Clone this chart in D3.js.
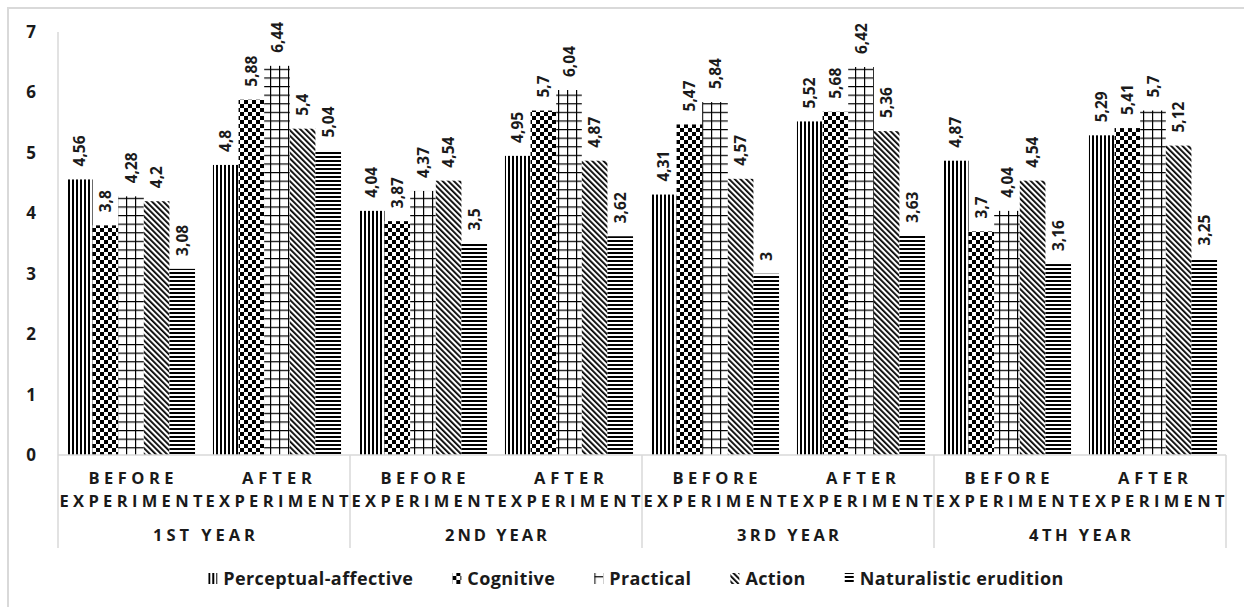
<!DOCTYPE html>
<html>
<head>
<meta charset="utf-8">
<script src="https://cdn.jsdelivr.net/npm/d3@7"></script>
<style>
  body { margin: 0; background: #fff; }
  svg { display: block; font-family: "Open Sans", "Noto Sans", sans-serif; }
</style>
</head>
<body>
<div id="chart"></div>
<script>
// chart data
var years = ["1ST YEAR", "2ND YEAR", "3RD YEAR", "4TH YEAR"];
var phases = [["BEFORE", "EXPERIMENT"], ["AFTER", "EXPERIMENT"]];
var seriesNames = ["Perceptual-affective", "Cognitive", "Practical", "Action", "Naturalistic erudition"];
var yTicks = [0, 1, 2, 3, 4, 5, 6, 7];

// one value per year/phase column, in column order
var perceptual = [4.56, 4.8, 4.04, 4.95, 4.31, 5.52, 4.87, 5.29];
var cognitive = [3.8, 5.88, 3.87, 5.7, 5.47, 5.68, 3.7, 5.41];
var practical = [4.28, 6.44, 4.37, 6.04, 5.84, 6.42, 4.04, 5.7];
var action = [4.2, 5.4, 4.54, 4.87, 4.57, 5.36, 4.54, 5.12];
var naturalistic = [3.08, 5.04, 3.5, 3.62, 3, 3.63, 3.16, 3.25];

var seriesValues = [perceptual, cognitive, practical, action, naturalistic];
var patternIds = ["pat-vert", "pat-check", "pat-grid", "pat-diag", "pat-horiz"];

var width = 1244, height = 607;
var plotLeft = 58, plotRight = 1226, plotTop = 32, baseline = 455;
var axisBottom = 548;
var ink = "#1a1a1a", frameGray = "#d9d9d9";

var svg = d3.select("#chart").append("svg")
    .attr("width", width)
    .attr("height", height);

// fill patterns
var defs = svg.append("defs");

var vert = defs.append("pattern").attr("id", "pat-vert")
    .attr("patternUnits", "userSpaceOnUse").attr("width", 4).attr("height", 4);
vert.append("rect").attr("width", 4).attr("height", 4).attr("fill", "#fff");
vert.append("rect").attr("width", 2).attr("height", 4).attr("fill", "#000");

var check = defs.append("pattern").attr("id", "pat-check")
    .attr("patternUnits", "userSpaceOnUse").attr("width", 8).attr("height", 8);
check.append("rect").attr("width", 8).attr("height", 8).attr("fill", "#fff");
check.append("rect").attr("width", 4).attr("height", 4).attr("fill", "#000");
check.append("rect").attr("x", 4).attr("y", 4).attr("width", 4).attr("height", 4).attr("fill", "#000");

var grid = defs.append("pattern").attr("id", "pat-grid")
    .attr("patternUnits", "userSpaceOnUse").attr("width", 9).attr("height", 8.6);
grid.append("rect").attr("width", 9).attr("height", 8.6).attr("fill", "#fff");
grid.append("rect").attr("width", 1.2).attr("height", 8.6).attr("fill", "#000");
grid.append("rect").attr("width", 9).attr("height", 1.2).attr("fill", "#000");

var diag = defs.append("pattern").attr("id", "pat-diag")
    .attr("patternUnits", "userSpaceOnUse").attr("width", 4).attr("height", 4)
    .attr("patternTransform", "rotate(-45)");
diag.append("rect").attr("width", 4).attr("height", 4).attr("fill", "#fff");
diag.append("rect").attr("width", 1.8).attr("height", 4).attr("fill", "#000");

var horiz = defs.append("pattern").attr("id", "pat-horiz")
    .attr("patternUnits", "userSpaceOnUse").attr("width", 4).attr("height", 4);
horiz.append("rect").attr("width", 4).attr("height", 4).attr("fill", "#fff");
horiz.append("rect").attr("width", 4).attr("height", 2).attr("fill", "#000");

// outer frame
svg.append("rect")
    .attr("x", 8).attr("y", 8)
    .attr("width", 1250).attr("height", 620)
    .attr("fill", "none")
    .attr("stroke", frameGray)
    .attr("stroke-width", 2);

// scales
var columns = d3.range(years.length * phases.length);
var x = d3.scaleBand().domain(columns).range([plotLeft, plotRight]).padding(0);
var xs = d3.scaleBand().domain(d3.range(seriesNames.length))
    .range([0, x.bandwidth()]).paddingInner(0).paddingOuter(0.35);
var y = d3.scaleLinear().domain([0, 7]).range([baseline, plotTop]);

// y axis labels only
var yAxis = svg.append("g")
    .attr("transform", "translate(" + plotLeft + ",0)")
    .call(d3.axisLeft(y).tickValues(yTicks).tickSize(0).tickFormat(d3.format("d")));
yAxis.select(".domain").remove();
yAxis.selectAll("text")
    .attr("x", -27)
    .attr("text-anchor", "middle")
    .attr("fill", ink)
    .style("font-family", "'Open Sans', sans-serif")
    .style("font-size", "17px")
    .style("font-weight", "bold");

// bars
var fmt = function(v) { return String(v).replace(".", ","); };

seriesNames.forEach(function(name, si) {
    var g = svg.append("g").attr("class", "series");
    var cells = columns.map(function(c) { return { col: c, value: seriesValues[si][c] }; });

    g.selectAll("rect").data(cells).enter().append("rect")
        .attr("x", function(d) { return x(d.col) + xs(si); })
        .attr("y", function(d) { return y(d.value); })
        .attr("width", xs.bandwidth())
        .attr("height", function(d) { return baseline - y(d.value); })
        .attr("fill", "url(#" + patternIds[si] + ")");

    g.selectAll("text").data(cells).enter().append("text")
        .attr("transform", function(d) {
            var cx = x(d.col) + xs(si) + xs.bandwidth() / 2;
            return "translate(" + cx + "," + (y(d.value) - 13) + ") rotate(-90)";
        })
        .attr("dy", "0.36em")
        .attr("fill", ink)
        .style("font-size", "15.5px")
        .style("font-weight", "bold")
        .text(function(d) { return fmt(d.value); });
});

// category axis: baseline, year separators and labels
var cat = svg.append("g").attr("stroke", frameGray).attr("stroke-width", 1.5);
cat.append("line")
    .attr("x1", plotLeft).attr("x2", plotRight)
    .attr("y1", baseline).attr("y2", baseline);
cat.append("line")
    .attr("x1", plotLeft).attr("x2", plotLeft)
    .attr("y1", plotTop).attr("y2", baseline);
d3.range(years.length + 1).forEach(function(i) {
    var xx = i < years.length ? x(i * phases.length) : plotRight;
    cat.append("line")
        .attr("x1", xx).attr("x2", xx)
        .attr("y1", baseline).attr("y2", axisBottom);
});

var labels = svg.append("g")
    .attr("fill", ink)
    .style("font-size", "16.5px")
    .style("font-weight", "bold");

columns.forEach(function(c) {
    var words = phases[c % phases.length];
    var cx = x(c) + x.bandwidth() / 2;
    labels.append("text")
        .attr("x", cx).attr("y", 484)
        .attr("text-anchor", "middle")
        .attr("textLength", words[0] === "BEFORE" ? 85 : 70)
        .attr("lengthAdjust", "spacing")
        .text(words[0]);
    labels.append("text")
        .attr("x", cx).attr("y", 507)
        .attr("text-anchor", "middle")
        .attr("textLength", 143)
        .attr("lengthAdjust", "spacing")
        .text(words[1]);
});

years.forEach(function(name, i) {
    var cx = x(i * phases.length) + x.bandwidth();
    labels.append("text")
        .attr("x", cx).attr("y", 541)
        .attr("text-anchor", "middle")
        .attr("textLength", 102)
        .attr("lengthAdjust", "spacing")
        .text(name);
});

// legend
var legend = svg.append("g").attr("class", "legend");
var items = legend.selectAll("g").data(seriesNames).enter().append("g");
items.append("rect")
    .attr("y", 573).attr("width", 9).attr("height", 11)
    .attr("fill", function(d, i) { return "url(#" + patternIds[i] + ")"; });
items.append("text")
    .attr("x", 15).attr("y", 585)
    .attr("fill", ink)
    .style("font-size", "18px")
    .style("letter-spacing", "0.4px")
    .style("font-weight", "bold")
    .text(function(d) { return d; });

var offsets = [], pos = 0, gap = 39;
items.each(function() {
    offsets.push(pos);
    pos += 15 + d3.select(this).select("text").node().getComputedTextLength() + gap;
});
var startX = 636 - (pos - gap) / 2;
items.attr("transform", function(d, i) { return "translate(" + (startX + offsets[i]) + ",0)"; });
</script>
</body>
</html>
